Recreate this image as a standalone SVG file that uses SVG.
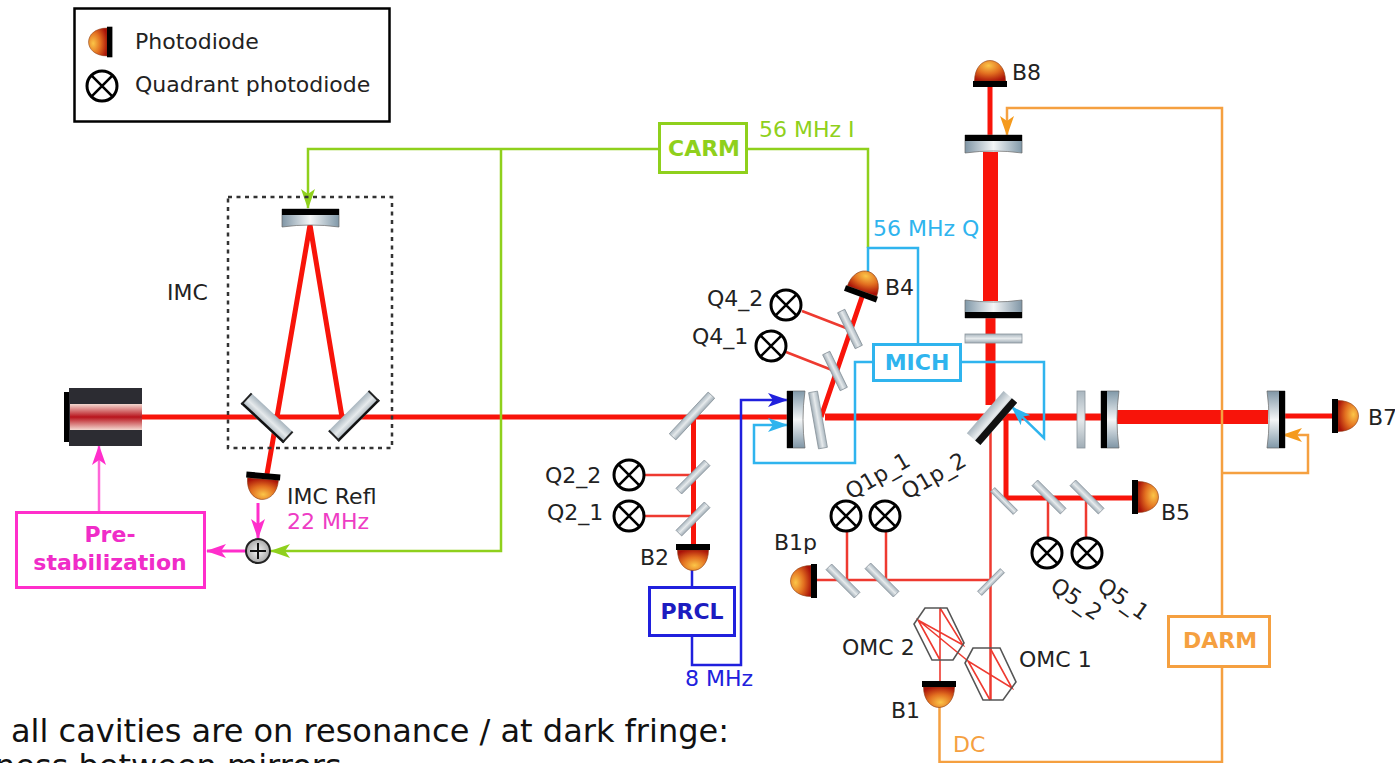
<svg xmlns="http://www.w3.org/2000/svg" width="1395" height="763" viewBox="0 0 1395 763">
<style>
text{font-family:"DejaVu Sans",sans-serif;font-size:22px;fill:#222}
.b{font-weight:bold}
.box{fill:#fff;stroke-width:3}
.s{fill:none;stroke-width:2.5}
.r{fill:none;stroke:#f8140a}
.thin{stroke-width:2.5;stroke:#ee3a30;fill:none}
.plate{fill:url(#pg);stroke:#8a949c;stroke-width:.8}
.omc{fill:none;stroke:#555;stroke-width:1.6}
</style>
<defs>
<linearGradient id="pg" x1="0" y1="0" x2="0" y2="1"><stop offset="0" stop-color="#a9b6bf"/><stop offset=".5" stop-color="#e6eaec"/><stop offset="1" stop-color="#a0adb6"/></linearGradient>
<linearGradient id="mg" x1="0" y1="0" x2="1" y2="0"><stop offset="0" stop-color="#7f95a5"/><stop offset=".5" stop-color="#f4f6f7"/><stop offset="1" stop-color="#8098a8"/></linearGradient>
<linearGradient id="laser" x1="0" y1="0" x2="0" y2="1"><stop offset="0" stop-color="#f4d8d0"/><stop offset=".5" stop-color="#b8141c"/><stop offset="1" stop-color="#f4d8d0"/></linearGradient>
<radialGradient id="pdg" cx=".55" cy=".75" r=".8"><stop offset="0" stop-color="#fbc548"/><stop offset=".5" stop-color="#e26f20"/><stop offset="1" stop-color="#a81008"/></radialGradient>
<radialGradient id="sg" cx=".5" cy=".5" r=".6"><stop offset="0" stop-color="#f4f4f4"/><stop offset="1" stop-color="#999"/></radialGradient>
<g id="pd"><path d="M-15.500 0C-15.500 13 -8 20.500 0 20.500S15.500 13 15.500 0Z" fill="url(#pdg)" stroke="#8a3a10" stroke-width=".6"/><rect x="-17" y="-6" width="34" height="6" fill="#000"/></g>
<g id="qpd"><circle r="15" fill="#fff" stroke="#000" stroke-width="3"/><path d="M-10.600 -10.600L10.600 10.600M-10.600 10.600L10.600 -10.600" stroke="#000" stroke-width="2.600"/></g>
<g id="cm"><path d="M-28.500 0H28.500V18Q0 14 -28.500 18Z" fill="url(#mg)" stroke="#666" stroke-width=".7"/><rect x="-28.500" y="0" width="57" height="6" fill="#000"/></g>
<g id="bs"><rect x="-29" y="-7.500" width="58" height="15" fill="url(#pg)"/><rect x="-29" y="5" width="58" height="2.500" fill="#111"/><rect x="-29" y="-7.500" width="2" height="15" fill="#222"/><rect x="27" y="-7.500" width="2" height="15" fill="#222"/></g>
<g id="bsk"><rect x="-28" y="-9" width="56" height="18" fill="url(#pg)"/><rect x="-28" y="2" width="56" height="7" fill="#111"/></g>
<rect id="p38" x="-20" y="-4" width="40" height="8" class="plate"/>
<rect id="p57" x="-28.500" y="-4.500" width="57" height="9" class="plate"/>
<rect id="p30" x="-16" y="-3" width="32" height="6" class="plate"/>
<marker id="ag" viewBox="0 0 20 14" refX="19" refY="7" markerWidth="20" markerHeight="14" markerUnits="userSpaceOnUse" orient="auto"><path d="M0 0L20 7L0 14L5 7Z" fill="#8fd01c"/></marker>
<marker id="am" viewBox="0 0 20 14" refX="19" refY="7" markerWidth="20" markerHeight="14" markerUnits="userSpaceOnUse" orient="auto"><path d="M0 0L20 7L0 14L5 7Z" fill="#ff2ecb"/></marker>
<marker id="ab" viewBox="0 0 20 14" refX="19" refY="7" markerWidth="20" markerHeight="14" markerUnits="userSpaceOnUse" orient="auto"><path d="M0 0L20 7L0 14L5 7Z" fill="#2fb4ee"/></marker>
<marker id="ad" viewBox="0 0 20 14" refX="19" refY="7" markerWidth="20" markerHeight="14" markerUnits="userSpaceOnUse" orient="auto"><path d="M0 0L20 7L0 14L5 7Z" fill="#2020dd"/></marker>
<marker id="ao" viewBox="0 0 20 14" refX="19" refY="7" markerWidth="20" markerHeight="14" markerUnits="userSpaceOnUse" orient="auto"><path d="M0 0L20 7L0 14L5 7Z" fill="#f59a1c"/></marker>
</defs>

<g id="beams">
<path class="r" stroke-width="5" d="M142 417H790M693.500 417V546M277 417L310 225L342 417M277 417L267 474M821 417L862 297M1285 416H1334M990 86V136M1006 418V498H1134"/>
<path class="r" stroke-width="7" d="M825 417H985M1000 417H1102"/>
<path class="r" stroke-width="15" d="M990.500 152V301"/>
<path class="r" stroke-width="10" d="M990.500 318V405"/>
<path class="r" stroke-width="14" d="M1117 417H1268"/>
<path class="thin" d="M645 475H693M645 516H693M802 311L846 328M786 352L832 370M1048 498V538M1086 498V538M847 530V581M886 530V581M813 580H991M990.500 425V700"/>
<path class="thin" style="stroke-width:1.600" d="M990 648L1012 688L968 661L990 700M918 620L968 661M940 608L963 645L918 620L940 660M940 608V683"/>
</g>

<g id="connectors">
<g class="s" stroke="#8fd01c">
<path d="M659 149H308V208" marker-end="url(#ag)"/>
<path d="M501 149V551H271" marker-end="url(#ag)"/>
<path d="M747 149H868V248"/>
</g>
<g class="s" stroke="#2fb4ee">
<path d="M868 275V248H918V345"/>
<path d="M873 362H855V463H754V425H787" marker-end="url(#ab)"/>
<path d="M961 362H1044V438L1012 407" marker-end="url(#ab)"/>
</g>
<g class="s" stroke="#2020dd">
<path d="M692 570V587M692 636V665H741V400H787" marker-end="url(#ad)"/>
</g>
<g class="s" stroke="#ff2ecb">
<path d="M258 503V538" stroke-width="3" marker-end="url(#am)"/>
<path d="M246 551H207" stroke-width="3" marker-end="url(#am)"/>
<path d="M99 512V446" stroke="#ff66d8" marker-end="url(#am)"/>
</g>
<g class="s" stroke="#f5a040">
<path d="M939.500 705V762H1222V667"/>
<path d="M1222 616V108H1007V135" marker-end="url(#ao)"/>
<path d="M1222 473H1308V435H1283" marker-end="url(#ao)"/>
</g>
</g>

<g id="legend">
<rect x="74.500" y="8.500" width="315" height="113" fill="#fff" stroke="#000" stroke-width="2.500"/>
<use href="#pd" transform="translate(107,42) rotate(90) scale(.9)"/>
<use href="#qpd" transform="translate(102,86)"/>
<text x="135" y="49">Photodiode</text>
<text x="135" y="92">Quadrant photodiode</text>
</g>

<g id="laser-src">
<rect x="64" y="392" width="6" height="50" fill="#000"/>
<rect x="69" y="388" width="73" height="58" fill="#2c2c32"/>
<rect x="70" y="404" width="72" height="26" fill="url(#laser)"/>
</g>

<g id="imc">
<rect x="228" y="197" width="164" height="251" fill="none" stroke="#333" stroke-width="2.500" stroke-dasharray="4 4.500"/>
<use href="#cm" transform="translate(310.500,209)"/>
<use href="#bs" transform="translate(267,418) rotate(43)"/>
<use href="#bs" transform="translate(354,416) rotate(-45)"/>
<text x="167" y="300">IMC</text>
</g>

<g id="imc-refl"><use href="#pd" transform="translate(263,479) rotate(5)"/><text x="287" y="504">IMC Refl</text><text x="287" y="529" style="fill:#ee3cc4">22 MHz</text></g>
<g id="sum"><circle cx="258" cy="551" r="12" fill="url(#sg)" stroke="#222" stroke-width="2"/><path d="M250 551H266M258 543V559" stroke="#111" stroke-width="2"/></g>
<g id="prestab"><rect class="box" x="16.500" y="512.500" width="188" height="75" stroke="#ff2ecb"/><text class="b" x="110" y="542" text-anchor="middle" style="fill:#f02cc8">Pre-</text><text class="b" x="110" y="570" text-anchor="middle" style="fill:#f02cc8">stabilization</text></g>
<g id="carm"><rect class="box" x="659.500" y="123.500" width="87" height="49" stroke="#8fd01c"/><text class="b" x="704" y="156" text-anchor="middle" style="fill:#8fd01c">CARM</text></g>
<text x="759" y="137" style="fill:#8fd01c">56 MHz I</text>
<text x="873" y="236" style="fill:#2fb4ee">56 MHz Q</text>
<g id="mich"><rect class="box" x="873.500" y="344.500" width="87" height="36" stroke="#2fb4ee"/><text class="b" x="917" y="370" text-anchor="middle" style="fill:#2fb4ee">MICH</text></g>
<g id="prcl"><rect class="box" x="649.500" y="587.500" width="85" height="48" stroke="#2020dd"/><text class="b" x="692" y="619" text-anchor="middle" style="fill:#1c1cc0">PRCL</text></g>
<text x="685" y="686" style="fill:#2020dd">8 MHz</text>
<g id="darm"><rect class="box" x="1168.500" y="616.500" width="101" height="50" stroke="#f5a040"/><text class="b" x="1220" y="648" text-anchor="middle" style="fill:#f5a040">DARM</text></g>
<text x="953" y="752" style="fill:#f5a040">DC</text>

<g id="optics">
<use href="#p57" transform="translate(692,416) rotate(-47)"/>
<use href="#p38" transform="translate(693,477) rotate(-45)"/>
<use href="#p38" transform="translate(693,519) rotate(-45)"/>
<use href="#p38" transform="translate(850,329) rotate(64)"/>
<use href="#p38" transform="translate(835,371) rotate(64)"/>
<use href="#cm" transform="translate(787,419.500) rotate(-90)"/>
<use href="#p57" transform="translate(818,420) rotate(80)"/>
<use href="#cm" transform="translate(993.500,135)"/>
<use href="#cm" transform="translate(993.500,318) rotate(180)"/>
<rect x="965" y="334" width="57" height="9" class="plate"/>
<use href="#bsk" transform="translate(992,418) rotate(-49)"/>
<rect x="1077" y="391" width="8" height="57" class="plate"/>
<use href="#cm" transform="translate(1101,419.500) rotate(-90)"/>
<use href="#cm" transform="translate(1285,419.500) rotate(90)"/>
<use href="#p38" transform="translate(1049,497) rotate(45)"/>
<use href="#p38" transform="translate(1087,497) rotate(45)"/>
<use href="#p30" transform="translate(1004,501) rotate(45)"/>
<use href="#p38" transform="translate(843,581) rotate(45)"/>
<use href="#p38" transform="translate(882,580) rotate(45)"/>
<use href="#p30" transform="translate(991,582) rotate(-45)"/>
</g>

<g id="omc1"><path class="omc" d="M973 648H1000L1016 682L1003 700H983L965 663Z"/><text x="1019" y="667">OMC 1</text></g>
<g id="omc2"><path class="omc" d="M925 608H947L964 643L953 660H932L914 624Z"/><text x="842" y="655">OMC 2</text></g>

<g id="b8"><use href="#pd" transform="translate(990,81) rotate(180)"/><text x="1012" y="80">B8</text></g>
<g id="b4"><use href="#pd" transform="translate(862,291) rotate(200)"/><text x="885" y="295">B4</text></g>
<g id="b2"><use href="#pd" transform="translate(693,550)"/><text x="640" y="565">B2</text></g>
<g id="b1"><use href="#pd" transform="translate(939,687)"/><text x="891" y="718">B1</text></g>
<g id="b1p"><use href="#pd" transform="translate(811,581) rotate(90)"/><text x="774" y="550">B1p</text></g>
<g id="b5"><use href="#pd" transform="translate(1138,497) rotate(-90)"/><text x="1161" y="520">B5</text></g>
<g id="b7"><use href="#pd" transform="translate(1338,416) rotate(-90)"/><text x="1368" y="425">B7</text></g>

<g id="q4-2"><use href="#qpd" transform="translate(786,305)"/><text x="707" y="306">Q4_2</text></g>
<g id="q4-1"><use href="#qpd" transform="translate(771,346)"/><text x="692" y="344">Q4_1</text></g>
<g id="q2-2"><use href="#qpd" transform="translate(629,475)"/><text x="545" y="483">Q2_2</text></g>
<g id="q2-1"><use href="#qpd" transform="translate(629,516)"/><text x="547" y="520">Q2_1</text></g>
<g id="q1p-1"><use href="#qpd" transform="translate(846,516)"/><text transform="translate(851,500) rotate(-30)">Q1p_1</text></g>
<g id="q1p-2"><use href="#qpd" transform="translate(885,516)"/><text transform="translate(907,500) rotate(-30)">Q1p_2</text></g>
<g id="q5-2"><use href="#qpd" transform="translate(1047,553)"/><text transform="translate(1049,589) rotate(35)">Q5_2</text></g>
<g id="q5-1"><use href="#qpd" transform="translate(1087,553)"/><text transform="translate(1096,589) rotate(35)">Q5_1</text></g>

<text x="11" y="742" style="font-size:32px;fill:#111">all cavities are on resonance / at dark fringe:</text>
<text x="-5" y="777" style="font-size:32px;fill:#111">ness between mirrors</text>
</svg>
